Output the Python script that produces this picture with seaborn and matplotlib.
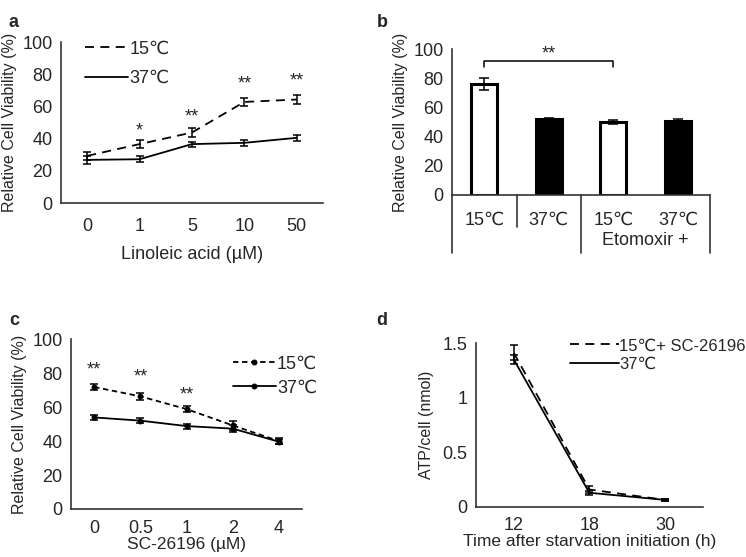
import matplotlib
matplotlib.use("Agg")
import matplotlib.pyplot as plt
import matplotlib.transforms as mtransforms
import seaborn as sns
import pandas as pd

# panel a: linoleic acid
a_doses = ["0", "1", "5", "10", "50"]
a_15 = [29.3, 36.6, 43.8, 62.8, 64.3]
a_15_err = [2.5, 2.5, 3.0, 2.5, 2.5]
a_37 = [26.8, 27.2, 36.6, 37.4, 40.5]
a_37_err = [2.5, 2.0, 1.5, 2.0, 2.0]
a_stars = ["", "*", "**", "**", "**"]
a_star_y = [0, 45, 53.5, 73.8, 75.6]

# panel b: etomoxir
b_labels = ["15\u2103", "37\u2103", "15\u2103", "37\u2103"]
b_vals = [76, 52, 50, 50.7]
b_err = [4.0, 1.0, 1.5, 1.5]
b_fill = ["white", "black", "white", "black"]

# panel c: SC-26196
c_doses = ["0", "0.5", "1", "2", "4"]
c_15 = [71.8, 66.3, 58.8, 49.2, 40.0]
c_15_err = [1.5, 2.0, 2.0, 2.5, 1.5]
c_37 = [53.9, 52.0, 48.8, 47.3, 39.6]
c_37_err = [1.5, 1.5, 1.5, 2.0, 1.5]
c_stars = ["**", "**", "**", "", ""]
c_star_y = [82, 77.6, 67.3, 0, 0]

# panel d: ATP
d_times = ["12", "18", "30"]
d_15 = [1.41, 0.16, 0.065]
d_15_err = [0.07, 0.03, 0.01]
d_37 = [1.35, 0.13, 0.065]
d_37_err = [0.04, 0.02, 0.01]

sns.set_style("white")
plt.rcParams['font.family'] = ['Liberation Sans', 'DejaVu Sans']
plt.rcParams['axes.edgecolor'] = '#333333'
plt.rcParams['axes.linewidth'] = 1.2

fig = plt.figure(figsize=(7.46, 5.57), dpi=100)
ax_a = fig.add_axes([0.0818, 0.6355, 0.351, 0.289])
ax_b = fig.add_axes([0.606, 0.650, 0.346, 0.262])
ax_c = fig.add_axes([0.0952, 0.0862, 0.3097, 0.305])
ax_d = fig.add_axes([0.638, 0.0898, 0.304, 0.2944])

TICK_FS = 13
LAB_FS = 11.5
STAR_FS = 13


def style(ax, xpad=6):
    sns.despine(ax=ax)
    ax.tick_params(length=0, labelsize=TICK_FS, pad=6)
    ax.tick_params(axis="x", pad=xpad)


def line_panel(ax, cats, s15, e15, s37, e37, lab15, lab37, dash, marker=None):
    x = list(range(len(cats)))
    df = pd.DataFrame({"x": x * 2, "y": s15 + s37,
                       "grp": [lab15] * len(x) + [lab37] * len(x)})
    sns.lineplot(data=df[df.grp == lab15], x="x", y="y", ax=ax, color="black",
                 lw=1.3, marker=marker, markersize=3.5, mec="black",
                 label=lab15)
    ax.lines[-1].set_dashes(dash)
    sns.lineplot(data=df[df.grp == lab37], x="x", y="y", ax=ax, color="black",
                 lw=1.3, marker=marker, markersize=3.5, mec="black",
                 label=lab37)
    ax.errorbar(x, s15, yerr=e15, fmt="none", ecolor="black", elinewidth=1.1,
                capsize=3, capthick=1.1)
    ax.errorbar(x, s37, yerr=e37, fmt="none", ecolor="black", elinewidth=1.1,
                capsize=3, capthick=1.1)
    ax.set_xlim(-0.5, len(cats) - 0.5)
    ax.set_xticks(x, cats)


# ---- a ----
line_panel(ax_a, a_doses, a_15, a_15_err, a_37, a_37_err,
           "15\u2103", "37\u2103", (5, 3.5))
ax_a.set_ylim(0, 100)
ax_a.set_yticks(range(0, 101, 20))
ax_a.set_xlabel("Linoleic acid (\u00b5M)", fontsize=TICK_FS, labelpad=8)
ax_a.set_ylabel("Relative Cell Viability (%)", fontsize=LAB_FS, labelpad=4)
for i, s in enumerate(a_stars):
    if s:
        ax_a.text(i, a_star_y[i], s, ha="center", va="center", fontsize=STAR_FS)
ax_a.legend(loc="upper left", bbox_to_anchor=(0.03, 1.11), frameon=False,
            fontsize=TICK_FS, handlelength=2.4, handletextpad=0.05,
            labelspacing=0.7)
style(ax_a, xpad=11)

# ---- b ----
dfb = pd.DataFrame({"cond": range(4), "val": b_vals})
sns.barplot(data=dfb, x="cond", y="val", ax=ax_b, width=0.4,
            palette=b_fill, hue="cond", legend=False,
            edgecolor="black", linewidth=2.2)
ax_b.errorbar(range(4), b_vals, yerr=b_err, fmt="none", ecolor="black",
              elinewidth=1.1, capsize=3.5, capthick=1.1)
ax_b.set_ylim(0, 100)
ax_b.set_xlim(-0.5, 3.5)
ax_b.set_yticks(range(0, 101, 20))
ax_b.set_xticks(range(4), b_labels)
ax_b.set_xlabel("")
ax_b.set_ylabel("Relative Cell Viability (%)", fontsize=LAB_FS, labelpad=4)
style(ax_b, xpad=12)
ax_b.spines["left"].set_bounds(0, 100)
trb = mtransforms.blended_transform_factory(ax_b.transData, ax_b.transAxes)
for xv, y0 in [(-0.5, -0.4), (0.5, -0.22), (1.5, -0.4), (3.5, -0.4)]:
    ax_b.plot([xv, xv], [0, y0], transform=trb, color="#333333", lw=1.2,
              clip_on=False)
ax_b.text(2.5, -0.31, "Etomoxir +", transform=trb, ha="center", va="center",
          fontsize=TICK_FS)
ax_b.plot([0, 0, 2, 2], [88, 91.5, 91.5, 88], color="black", lw=1.1)
ax_b.text(1, 96.5, "**", ha="center", va="center", fontsize=STAR_FS)

# ---- c ----
line_panel(ax_c, c_doses, c_15, c_15_err, c_37, c_37_err,
           "15\u2103", "37\u2103", (3, 2), marker="o")
ax_c.set_ylim(0, 100)
ax_c.set_yticks(range(0, 101, 20))
ax_c.set_xlabel("SC-26196 (\u00b5M)", fontsize=12.5, labelpad=0)
ax_c.set_ylabel("Relative Cell Viability (%)", fontsize=LAB_FS, labelpad=4)
for i, s in enumerate(c_stars):
    if s:
        ax_c.text(i, c_star_y[i], s, ha="center", va="center", fontsize=STAR_FS)
ax_c.legend(loc="upper left", bbox_to_anchor=(0.63, 1.0), frameon=False,
            fontsize=TICK_FS, handlelength=2.4, handletextpad=0.05,
            labelspacing=0.4)
style(ax_c, xpad=8)

# ---- d ----
line_panel(ax_d, d_times, d_15, d_15_err, d_37, d_37_err,
           "15\u2103+ SC-26196", "37\u2103", (5, 3.5))
ax_d.set_ylim(0, 1.5)
ax_d.set_yticks([0, 0.5, 1, 1.5], ["0", "0.5", "1", "1.5"])
ax_d.set_xlabel("Time after starvation initiation (h)", fontsize=12.5,
                labelpad=0)
ax_d.set_ylabel("ATP/cell (nmol)", fontsize=LAB_FS, labelpad=6)
ax_d.legend(loc="upper left", bbox_to_anchor=(0.35, 1.12), frameon=False,
            fontsize=12, handlelength=2.9, handletextpad=0.05,
            labelspacing=0.2)
style(ax_d, xpad=7)

for lab, (x, y) in zip("abcd", [(0.012, 0.975), (0.505, 0.975),
                                (0.012, 0.44), (0.505, 0.44)]):
    fig.text(x, y, lab, fontsize=13, fontweight="bold", ha="left", va="top")

fig.savefig("out.png", dpi=100)
